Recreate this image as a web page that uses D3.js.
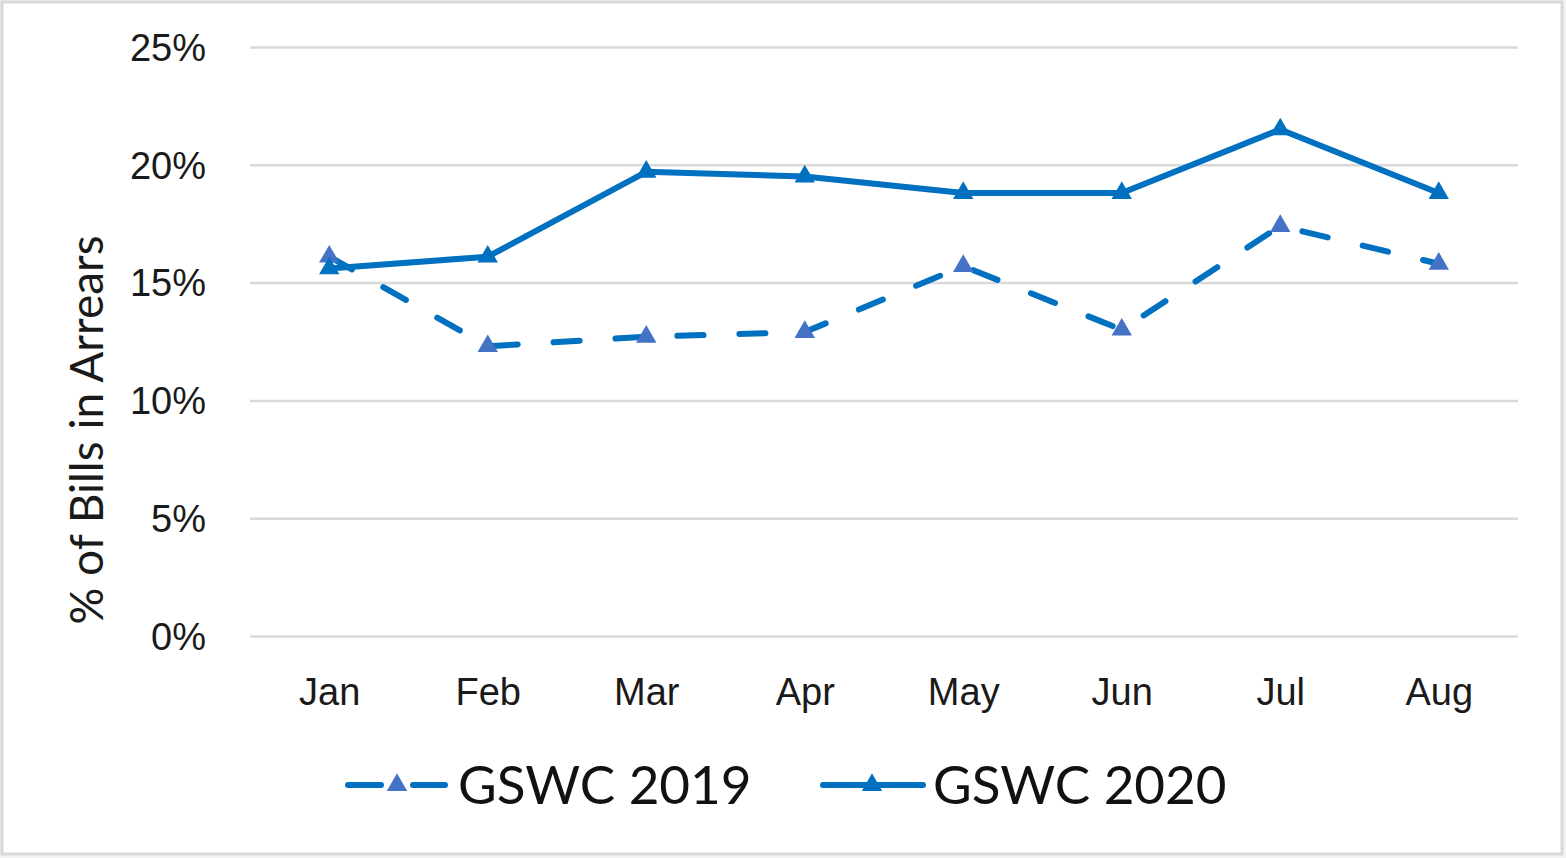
<!DOCTYPE html>
<html>
<head>
<meta charset="utf-8">
<script src="https://cdn.jsdelivr.net/npm/d3@7"></script>
<style>
  body { margin:0; background:#f2f2f2; }
  svg { display:block; font-family: Lato, "Open Sans", sans-serif; }
  .tick text { fill:#1a1a1a; }
</style>
</head>
<body>
<svg id="chart"></svg>
<script>
// data
var months = ["Jan","Feb","Mar","Apr","May","Jun","Jul","Aug"];
var gswc2019 = [16.1, 12.3, 12.7, 12.9, 15.7, 13.0, 17.4, 15.8];
var gswc2020 = [15.6, 16.1, 19.7, 19.5, 18.8, 18.8, 21.5, 18.8];
var yTicks = [0, 5, 10, 15, 20, 25];

var screen = {width:1566, height:858}
var margins = {left:250, right:48, top:47, bottom:222}

var graph = {
    width: screen.width - margins.left - margins.right,
    height: screen.height - margins.top - margins.bottom
}

var svg = d3.select("#chart")
    .attr("width", screen.width)
    .attr("height", screen.height)

// chart frame
svg.append("rect")
    .attr("x", 2).attr("y", 2)
    .attr("width", 1560).attr("height", 852)
    .attr("fill", "white")
    .attr("stroke", "#d9d9d9")
    .attr("stroke-width", 3)

var xScale = d3.scalePoint()
    .domain(months)
    .range([0, graph.width])
    .padding(0.5)

var yScale = d3.scaleLinear()
    .domain([0, 25])
    .range([graph.height, 0])

var plot = svg.append("g")
    .attr("transform", "translate(" + margins.left + "," + margins.top + ")")

// gridlines + y labels
var yAxis = d3.axisLeft(yScale)
    .tickValues(yTicks)
    .tickSize(-graph.width)
    .tickPadding(44)
    .tickFormat(function(d){ return d + "%"; })

plot.append("g")
    .call(yAxis)
    .call(function(g){
        g.select(".domain").remove();
        g.selectAll(".tick line").attr("stroke", "#d9d9d9").attr("stroke-width", 2.5);
        g.selectAll(".tick text").attr("font-size", 38).attr("dy", "0.35em");
    })

var xAxis = d3.axisBottom(xScale)
    .tickSize(0)
    .tickPadding(42)

plot.append("g")
    .attr("transform", "translate(0," + graph.height + ")")
    .call(xAxis)
    .call(function(g){
        g.select(".domain").remove();
        g.selectAll(".tick text").attr("font-size", 38);
    })

var lineGen = d3.line()
    .x(function(d, i){ return xScale(months[i]); })
    .y(function(d){ return yScale(d); })

var tri = d3.symbol().type(d3.symbolTriangle).size(180)

var drawSeries = function(values, dashed, markerColor) {
    plot.append("path")
        .datum(values)
        .attr("fill", "none")
        .attr("stroke", "#0070C0")
        .attr("stroke-width", 6)
        .attr("stroke-linecap", "round")
        .attr("stroke-linejoin", "round")
        .attr("stroke-dasharray", dashed ? "26 36" : null)
        .attr("d", lineGen)

    plot.selectAll(null)
        .data(values)
        .enter()
        .append("path")
        .attr("d", tri)
        .attr("fill", markerColor)
        .attr("transform", function(d, i){
            return "translate(" + xScale(months[i]) + "," + yScale(d) + ")";
        })
}

drawSeries(gswc2019, true, "#4472C4")
drawSeries(gswc2020, false, "#0070C0")

// y axis title
svg.append("text")
    .attr("transform", "translate(103,430) rotate(-90)")
    .attr("text-anchor", "middle")
    .attr("font-size", 46)
    .attr("fill", "#1a1a1a")
    .text("% of Bills in Arrears")

// legend
var legendItems = [
    {name:"GSWC 2019", dashed:true, color:"#4472C4", x:345},
    {name:"GSWC 2020", dashed:false, color:"#0070C0", x:820}
]

var legend = svg.append("g").attr("transform", "translate(0,785)")

legendItems.forEach(function(item){
    if (item.dashed) {
        legend.append("line")
            .attr("x1", item.x + 3).attr("x2", item.x + 36)
            .attr("stroke", "#0070C0").attr("stroke-width", 6).attr("stroke-linecap", "round")
        legend.append("line")
            .attr("x1", item.x + 68).attr("x2", item.x + 100)
            .attr("stroke", "#0070C0").attr("stroke-width", 6).attr("stroke-linecap", "round")
    } else {
        legend.append("line")
            .attr("x1", item.x + 3).attr("x2", item.x + 103)
            .attr("stroke", "#0070C0").attr("stroke-width", 6).attr("stroke-linecap", "round")
    }
    legend.append("path")
        .attr("d", tri)
        .attr("fill", item.color)
        .attr("transform", "translate(" + (item.x + 52) + ",0)")
    legend.append("text")
        .attr("x", item.x + 113)
        .attr("dy", "0.36em")
        .attr("font-size", 53)
        .attr("fill", "#111")
        .text(item.name)
})
</script>
</body>
</html>
